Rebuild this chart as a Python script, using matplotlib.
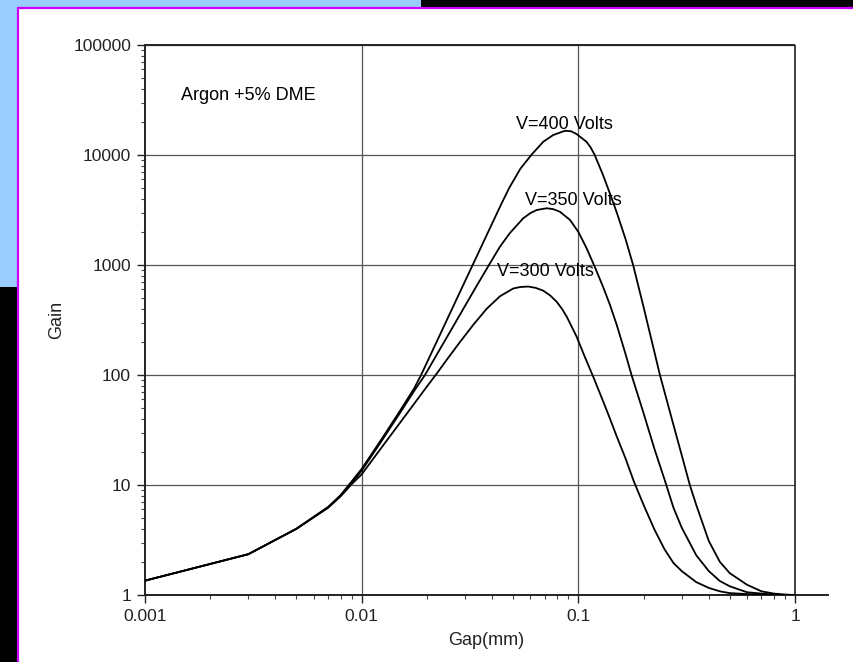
"""
    Gain vs gap for Argon +5% DME at three voltages.
"""
import matplotlib
matplotlib.use('Agg')
import matplotlib.pyplot as plt
from matplotlib.patches import Rectangle
from matplotlib.ticker import FixedLocator, LogLocator, NullFormatter

plt.rcParams['font.family'] = ['Liberation Sans', 'DejaVu Sans']

# gap (mm) and gain, one pair of lists per voltage
gap_300 = [0.001, 0.003, 0.005, 0.007, 0.008, 0.009, 0.01, 0.0125, 0.015, 0.0175,
           0.02, 0.0222, 0.025, 0.0284, 0.0327, 0.0378, 0.0435, 0.0501, 0.054,
           0.0587, 0.0635, 0.0689, 0.074, 0.0794, 0.084, 0.0884, 0.093, 0.0982,
           0.107, 0.117, 0.13, 0.14, 0.15, 0.165, 0.18, 0.2, 0.225, 0.25, 0.275,
           0.3, 0.35, 0.4, 0.45, 0.5, 0.6, 0.7, 0.8, 1.0]
gain_300 = [1.35, 2.35, 4.0, 6.2, 7.9, 10.2, 12.5, 22.6, 36.6, 55,
            78.5, 103, 142, 199, 285, 401, 520, 612, 631,
            637, 620, 584, 530, 464, 400, 339, 277, 223,
            147, 97, 58, 40, 28, 17.5, 10.9, 6.6, 3.9, 2.6, 1.95,
            1.65, 1.31, 1.16, 1.08, 1.04, 1.02, 1.01, 1.0, 1.0]

gap_350 = [0.001, 0.003, 0.005, 0.007, 0.008, 0.009, 0.01, 0.0125, 0.015, 0.0175,
           0.0196, 0.0225, 0.026, 0.03, 0.034, 0.0391, 0.0435, 0.0483, 0.0557,
           0.06, 0.0642, 0.0714, 0.0765, 0.0822, 0.0915, 0.1, 0.109, 0.119, 0.13,
           0.14, 0.15, 0.165, 0.176, 0.2, 0.225, 0.25, 0.275, 0.3, 0.35, 0.4,
           0.45, 0.5, 0.6, 0.7, 0.8, 0.9, 1.0]
gain_350 = [1.35, 2.35, 4.0, 6.3, 8.0, 10.5, 13.5, 26, 45, 72,
            100, 160, 261, 425, 650, 1036, 1470, 1950, 2660,
            2960, 3160, 3280, 3220, 3050, 2570, 2000, 1430, 965, 635,
            433, 290, 156, 100, 45, 21, 11.2, 6.2, 4.1, 2.3, 1.65,
            1.34, 1.2, 1.06, 1.03, 1.01, 1.0, 1.0]

gap_400 = [0.001, 0.003, 0.005, 0.007, 0.008, 0.009, 0.01, 0.0125, 0.015, 0.0175,
           0.0188, 0.021, 0.025, 0.03, 0.0335, 0.0385, 0.044, 0.048, 0.054,
           0.0609, 0.0689, 0.0766, 0.0867, 0.0925, 0.0982, 0.109, 0.114, 0.119,
           0.13, 0.1425, 0.15, 0.165, 0.179, 0.2, 0.238, 0.25, 0.275, 0.3,
           0.327, 0.35, 0.4, 0.45, 0.5, 0.6, 0.7, 0.8, 0.9, 1.0]
gain_400 = [1.35, 2.35, 4.0, 6.3, 8.1, 10.8, 14, 27, 47, 76,
            100, 159, 331, 713, 1130, 2030, 3550, 5030, 7500,
            10100, 13200, 15200, 16600, 16450, 15500, 13200, 11700, 10000,
            6580, 4040, 3050, 1730, 1000, 415, 100, 70, 35, 18.7,
            10, 6.6, 3.1, 2.0, 1.58, 1.24, 1.08, 1.03, 1.01, 1.0]

x_ticks = [0.001, 0.01, 0.1, 1]
x_labels = ['0.001', '0.01', '0.1', '1']
y_ticks = [1, 10, 100, 1000, 10000, 100000]
y_labels = ['1', '10', '100', '1000', '10000', '100000']

fig = plt.figure(figsize=(8.54, 6.62), dpi=100, facecolor='black')

# slide background: blue block, then white panel with magenta border
fig.patches.append(Rectangle((0, 1 - 287 / 662), 421 / 854, 287 / 662,
                             transform=fig.transFigure, facecolor='#99CCFF',
                             edgecolor='none', zorder=0))
fig.patches.append(Rectangle((18 / 854, -0.01), 1.0, 1 - 8 / 662 + 0.01,
                             transform=fig.transFigure, facecolor='white',
                             edgecolor='#CC00FF', linewidth=1.6, zorder=1))

ax = fig.add_axes([145 / 854, 67 / 662, 683 / 854, 550 / 662])
ax.set_zorder(5)
ax.set_facecolor('none')
ax.set_xscale('log')
ax.set_yscale('log')
ax.set_xlim(0.001, 1.42)
ax.set_ylim(1, 100000)

# grid and frame only reach x = 1
ax.hlines(y_ticks, x_ticks[0], x_ticks[-1], color='#555555', linewidth=0.9, zorder=1)
ax.vlines(x_ticks[1:-1], y_ticks[0], y_ticks[-1], color='#555555', linewidth=0.9, zorder=1)
ax.vlines(x_ticks[-1], y_ticks[0], y_ticks[-1], color='#222222', linewidth=1.2, zorder=1)
ax.hlines(y_ticks[-1], x_ticks[0], x_ticks[-1], color='#222222', linewidth=1.4,
          zorder=1, clip_on=False)

for gp, g in [(gap_400, gain_400), (gap_350, gain_350), (gap_300, gain_300)]:
    ax.plot(gp, g, color='black', linewidth=1.3, zorder=3)

ax.spines['top'].set_visible(False)
ax.spines['right'].set_visible(False)
for s in ['left', 'bottom']:
    ax.spines[s].set_linewidth(1.4)
    ax.spines[s].set_color('#222222')

ax.xaxis.set_major_locator(FixedLocator(x_ticks))
ax.set_xticklabels(x_labels)
ax.yaxis.set_major_locator(FixedLocator(y_ticks))
ax.set_yticklabels(y_labels)
ax.xaxis.set_minor_locator(LogLocator(base=10, subs=range(2, 10)))
ax.yaxis.set_minor_locator(LogLocator(base=10, subs=range(2, 10)))
ax.xaxis.set_minor_formatter(NullFormatter())
ax.yaxis.set_minor_formatter(NullFormatter())
ax.tick_params(which='major', direction='out', length=6, width=1, labelsize=12.5,
               colors='#222222', pad=4)
ax.tick_params(which='minor', direction='out', length=3, width=0.8, colors='#444444')

ax.set_xlabel('Gap(mm)', fontsize=13, color='#222222', labelpad=6)
ax.set_ylabel('Gain', fontsize=13, color='#222222', labelpad=6)

ax.text(0.00147, 35100, 'Argon +5% DME', fontsize=13, va='center', ha='left')
ax.text(0.0515, 19100, 'V=400 Volts', fontsize=13, va='center', ha='left')
ax.text(0.0567, 3840, 'V=350 Volts', fontsize=13, va='center', ha='left')
ax.text(0.042, 864, 'V=300 Volts', fontsize=13, va='center', ha='left')

fig.savefig('out.png', dpi=100, facecolor=fig.get_facecolor())
